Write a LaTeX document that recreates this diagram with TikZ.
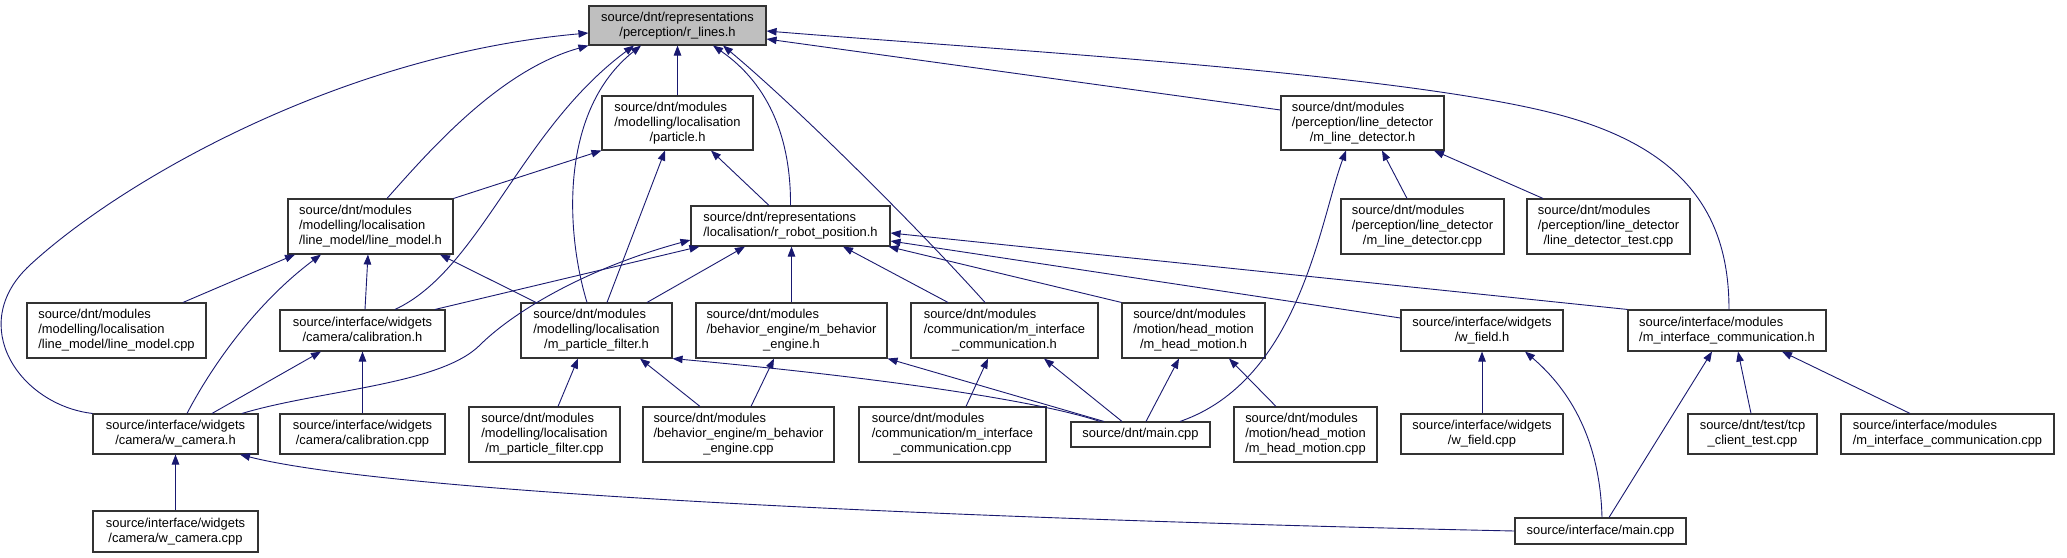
\documentclass[tikz,border=0pt]{standalone}
\usepackage{fontspec}
\setmainfont{Liberation Sans}
\usetikzlibrary{arrows.meta,calc}
\definecolor{edgeblue}{HTML}{191970}
\definecolor{maingray}{HTML}{BFBFBF}
\newcommand\twol[2]{\begin{tabular}{@{}l@{}}#1\\\multicolumn{1}{@{}c@{}}{#2}\end{tabular}}
\newcommand\threel[3]{\begin{tabular}{@{}l@{}}#1\\#2\\\multicolumn{1}{@{}c@{}}{#3}\end{tabular}}
\tikzset{
  box/.style={draw=black!80, line width=1.1pt, fill=white, inner sep=0pt, align=center,
    font=\fontsize{12.9}{15}\selectfont},
  mainbox/.style={box, fill=maingray},
  dep/.style={draw=edgeblue, line width=0.9pt, -{Triangle[length=10pt,width=7.5pt]}}
}
\begin{document}
\begin{tikzpicture}[x=1pt,y=-1pt]
\path[use as bounding box, fill=white] (0,0) rectangle (2067,557);

% nodes
\node[mainbox, minimum width=177, minimum height=39] (rl) at (677.5,25.5) {\twol{source/dnt/representations}{/perception/r\_lines.h}};
\node[box, minimum width=151, minimum height=54] (part) at (677.5,123) {\threel{source/dnt/modules}{/modelling/localisation}{/particle.h}};
\node[box, minimum width=165, minimum height=55] (lmh) at (370.5,226.5) {\threel{source/dnt/modules}{/modelling/localisation}{/line\_model/line\_model.h}};
\node[box, minimum width=199, minimum height=40] (rrp) at (790.5,226) {\twol{source/dnt/representations}{/localisation/r\_robot\_position.h}};
\node[box, minimum width=163, minimum height=54] (mld) at (1362.5,123) {\threel{source/dnt/modules}{/perception/line\_detector}{/m\_line\_detector.h}};
\node[box, minimum width=163, minimum height=55] (mldc) at (1422.5,226.5) {\threel{source/dnt/modules}{/perception/line\_detector}{/m\_line\_detector.cpp}};
\node[box, minimum width=163, minimum height=55] (ldt) at (1608.5,226.5) {\threel{source/dnt/modules}{/perception/line\_detector}{/line\_detector\_test.cpp}};
\node[box, minimum width=179, minimum height=55] (lmc) at (116.5,330.5) {\threel{source/dnt/modules}{/modelling/localisation}{/line\_model/line\_model.cpp}};
\node[box, minimum width=165, minimum height=41] (cal) at (362.5,330.5) {\twol{source/interface/widgets}{/camera/calibration.h}};
\node[box, minimum width=151, minimum height=55] (mpf) at (596.5,330.5) {\threel{source/dnt/modules}{/modelling/localisation}{/m\_particle\_filter.h}};
\node[box, minimum width=191, minimum height=55] (mbe) at (791.5,330.5) {\threel{source/dnt/modules}{/behavior\_engine/m\_behavior}{\_engine.h}};
\node[box, minimum width=187, minimum height=55] (mic) at (1004.5,330.5) {\threel{source/dnt/modules}{/communication/m\_interface}{\_communication.h}};
\node[box, minimum width=143, minimum height=55] (mhm) at (1193.5,330.5) {\threel{source/dnt/modules}{/motion/head\_motion}{/m\_head\_motion.h}};
\node[box, minimum width=162, minimum height=41] (wf) at (1482,330.5) {\twol{source/interface/widgets}{/w\_field.h}};
\node[box, minimum width=198, minimum height=41] (imic) at (1727,330.5) {\twol{source/interface/modules}{/m\_interface\_communication.h}};
\node[box, minimum width=165, minimum height=40] (wc) at (175.5,434) {\twol{source/interface/widgets}{/camera/w\_camera.h}};
\node[box, minimum width=165, minimum height=40] (calc) at (362.5,434) {\twol{source/interface/widgets}{/camera/calibration.cpp}};
\node[box, minimum width=151, minimum height=55] (mpfc) at (544.5,434.5) {\threel{source/dnt/modules}{/modelling/localisation}{/m\_particle\_filter.cpp}};
\node[box, minimum width=191, minimum height=55] (mbec) at (738.5,434.5) {\threel{source/dnt/modules}{/behavior\_engine/m\_behavior}{\_engine.cpp}};
\node[box, minimum width=187, minimum height=55] (micc) at (952.5,434.5) {\threel{source/dnt/modules}{/communication/m\_interface}{\_communication.cpp}};
\node[box, minimum width=139, minimum height=25] (main) at (1140.5,434.5) {source/dnt/main.cpp};
\node[box, minimum width=143, minimum height=55] (mhmc) at (1305.5,434.5) {\threel{source/dnt/modules}{/motion/head\_motion}{/m\_head\_motion.cpp}};
\node[box, minimum width=162, minimum height=40] (wfc) at (1482,434) {\twol{source/interface/widgets}{/w\_field.cpp}};
\node[box, minimum width=129, minimum height=40] (tcp) at (1752.5,434) {\twol{source/dnt/test/tcp}{\_client\_test.cpp}};
\node[box, minimum width=213, minimum height=40] (imicc) at (1947.5,434) {\twol{source/interface/modules}{/m\_interface\_communication.cpp}};
\node[box, minimum width=165, minimum height=41] (wcc) at (175.5,531.5) {\twol{source/interface/widgets}{/camera/w\_camera.cpp}};
\node[box, minimum width=171, minimum height=26] (imain) at (1600.5,531) {source/interface/main.cpp};

% edges into r_lines.h
\draw[dep] (wc.north west) .. controls (20,405) and (-35,325) .. (30,265) .. controls (121,181) and (340,55) .. ([shift={(0,7.5)}]rl.west);
\draw[dep] ([shift={(16.5,0)}]lmh.north) .. controls (430,150) and (500,70) .. (rl.south west);
\draw[dep] ([shift={(32.5,0)}]cal.north) .. controls (480,270) and (520,130) .. ([shift={(-43.5,0)}]rl.south);
\draw[dep] ([shift={(-9.5,0)}]mpf.north) .. controls (565,230) and (560,110) .. ([shift={(-36.5,0)}]rl.south);
\draw[dep] (part.north) -- (rl.south);
\draw[dep] (rrp.north) .. controls (791,140) and (770,85) .. ([shift={(35.5,0)}]rl.south);
\draw[dep] ([shift={(-19.5,0)}]mic.north) .. controls (920,230) and (800,110) .. ([shift={(45.5,0)}]rl.south);
\draw[dep] ([shift={(0,-13)}]mld.west) -- ([shift={(0,13.5)}]rl.east);
\draw[dep] ([shift={(2,0)}]imic.north) .. controls (1729,220) and (1690,150) .. (1560,115) .. controls (1404,73) and (1000,50) .. ([shift={(0,5.5)}]rl.east);

% edges into particle.h
\draw[dep] (lmh.north east) -- (part.south west);
\draw[dep] ([shift={(10.5,0)}]mpf.north) -- ([shift={(-12.5,0)}]part.south);
\draw[dep] ([shift={(-21.5,0)}]rrp.north) -- ([shift={(33.5,0)}]part.south);

% edges into line_model.h
\draw[dep] ([shift={(-60.5,0)}]mpf.north) -- ([shift={(69.5,0)}]lmh.south);
\draw[dep] ([shift={(66.5,0)}]lmc.north) -- ([shift={(-75.5,0)}]lmh.south);
\draw[dep] ([shift={(11.5,0)}]wc.north) .. controls (215,360) and (260,300) .. ([shift={(-49.5,0)}]lmh.south);
\draw[dep] ([shift={(2.5,0)}]cal.north) -- ([shift={(-2.5,0)}]lmh.south);

% edges into r_robot_position.h
\draw[dep] ([shift={(72.5,0)}]cal.north) -- ([shift={(9,0)}]rrp.south west);
\draw[dep] ([shift={(66.5,0)}]wc.north) .. controls (320,390) and (440,385) .. (480,345) .. controls (510,315) and (580,270) .. ([shift={(0,14)}]rrp.west);
\draw[dep] ([shift={(50.5,0)}]mpf.north) -- ([shift={(-45.5,0)}]rrp.south);
\draw[dep] (mbe.north) -- ([shift={(1,0)}]rrp.south);
\draw[dep] ([shift={(-56.5,0)}]mic.north) -- ([shift={(52.5,0)}]rrp.south);
\draw[dep] (mhm.north west) -- ([shift={(-2,0)}]rrp.south east);
\draw[dep] ([shift={(0,-12.5)}]wf.west) -- ([shift={(0,15)}]rrp.east);
\draw[dep] (imic.north west) -- ([shift={(0,7)}]rrp.east);

% edges into m_line_detector.h
\draw[dep] ([shift={(-15.5,0)}]mldc.north) -- ([shift={(19.5,0)}]mld.south);
\draw[dep] ([shift={(-65.5,0)}]ldt.north) -- ([shift={(71.5,0)}]mld.south);

% third row includes
\draw[dep] ([shift={(-29.5,0)}]mhmc.north) -- ([shift={(35.5,0)}]mhm.south);
\draw[dep] ([shift={(5.5,0)}]main.north) -- ([shift={(-14.5,0)}]mhm.south);
\draw[dep] ([shift={(-18.5,0)}]main.north) -- ([shift={(39.5,0)}]mic.south);
\draw[dep] ([shift={(-36.5,0)}]main.north) -- (mbe.south east);
\draw[dep] ([shift={(-40.5,0)}]main.north) .. controls (1020,395) and (820,372) .. (mpf.south east);
\draw[dep] ([shift={(39.5,0)}]main.north) .. controls (1300,380) and (1320,220) .. ([shift={(-16.5,0)}]mld.south);
\draw[dep] ([shift={(12.5,0)}]mbec.north) -- ([shift={(-17.5,0)}]mbe.south);
\draw[dep] ([shift={(-38.5,0)}]mbec.north) -- ([shift={(43.5,0)}]mpf.south);
\draw[dep] ([shift={(13.5,0)}]mpfc.north) -- ([shift={(-18.5,0)}]mpf.south);
\draw[dep] ([shift={(13.5,0)}]micc.north) -- ([shift={(-16.5,0)}]mic.south);

% interface side
\draw[dep] (wfc.north) -- (wf.south);
\draw[dep] ([shift={(1.5,0)}]imain.north) .. controls (1600,440) and (1570,390) .. ([shift={(43,0)}]wf.south);
\draw[dep] ([shift={(8.5,0)}]imain.north) -- ([shift={(-15,0)}]imic.south);
\draw[dep] ([shift={(-1.5,0)}]tcp.north) -- ([shift={(11,0)}]imic.south);
\draw[dep] ([shift={(-37.5,0)}]imicc.north) -- ([shift={(55,0)}]imic.south);
\draw[dep] (imain.west) .. controls (1000,520) and (400,495) .. ([shift={(64.5,0)}]wc.south);

% camera widgets
\draw[dep] (wcc.north) -- (wc.south);
\draw[dep] (calc.north) -- (cal.south);
\draw[dep] ([shift={(36.5,0)}]wc.north) -- ([shift={(-41.5,0)}]cal.south);
\end{tikzpicture}
\end{document}
